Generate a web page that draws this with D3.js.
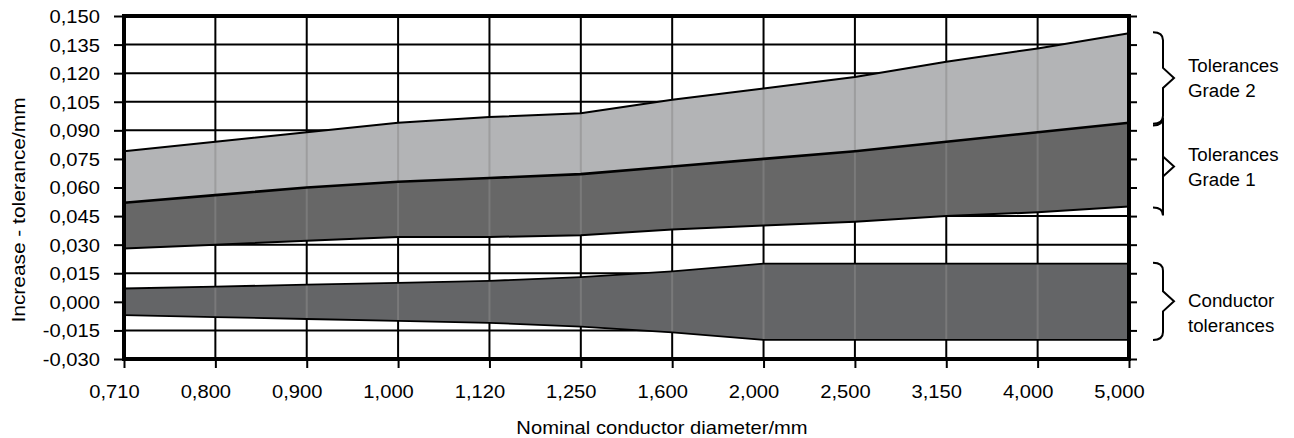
<!DOCTYPE html>
<html>
<head>
<meta charset="utf-8">
<script src="https://cdn.jsdelivr.net/npm/d3@7"></script>
<style>
  body { margin: 0; background: #fff; }
  svg { display: block; font-family: "Liberation Sans", Arial, sans-serif; }
</style>
</head>
<body>
<svg></svg>
<script>
 // diameters on the x axis (categories, evenly spaced)
 let categories = ['0,710', '0,800', '0,900', '1,000', '1,120', '1,250', '1,600', '2,000', '2,500', '3,150', '4,000', '5,000'];

 // band edges (mm)
 let grade2Upper = [0.079, 0.084, 0.089, 0.094, 0.097, 0.099, 0.106, 0.112, 0.118, 0.126, 0.133, 0.141];
 let grade1Upper = [0.052, 0.056, 0.060, 0.063, 0.065, 0.067, 0.071, 0.075, 0.079, 0.084, 0.089, 0.094];
 let grade1Lower = [0.028, 0.030, 0.032, 0.034, 0.034, 0.035, 0.038, 0.040, 0.042, 0.045, 0.047, 0.050];
 let conductorUpper = [0.007, 0.008, 0.009, 0.010, 0.011, 0.013, 0.016, 0.020, 0.020, 0.020, 0.020, 0.020];
 let conductorLower = [-0.007, -0.008, -0.009, -0.010, -0.011, -0.013, -0.016, -0.020, -0.020, -0.020, -0.020, -0.020];

 let yTicks = [0.150, 0.135, 0.120, 0.105, 0.090, 0.075, 0.060, 0.045, 0.030, 0.015, 0.000, -0.015, -0.030];
 let yTickLabels = ['0,150', '0,135', '0,120', '0,105', '0,090', '0,075', '0,060', '0,045', '0,030', '0,015', '0,000', '-0,015', '-0,030'];

 // braces on the right: label lines and the value range they cover
 let braceLabels = [['Tolerances', 'Grade 2'], ['Tolerances', 'Grade 1'], ['Conductor', 'tolerances']];
 let braceFrom = [0.0935, 0.0925, -0.020];
 let braceTo = [0.1415, 0.0495, 0.0205];

 let width = 1294;
 let height = 438;
 let padLeft = 124, padRight = 1129, padTop = 16, padBottom = 359;
 let stretch = 1.12; // glyphs in the picture are a bit wide

 let svg = d3.select('svg').attr('width', width).attr('height', height);

 let xScale = d3.scalePoint().domain(categories).range([padLeft, padRight]).padding(0);
 let yScale = d3.scaleLinear().domain([-0.030, 0.150]).range([padBottom, padTop]);

 let idx = categories.map((c, i) => i);
 let xi = i => xScale(categories[i]);

 // grid
 svg.append('g').selectAll('line').data(categories).enter().append('line')
    .attr('x1', d => xScale(d)).attr('x2', d => xScale(d))
    .attr('y1', padTop).attr('y2', padBottom)
    .attr('stroke', '#000').attr('stroke-width', 2);
 svg.append('g').selectAll('line').data(yTicks).enter().append('line')
    .attr('x1', padLeft).attr('x2', padRight)
    .attr('y1', d => yScale(d)).attr('y2', d => yScale(d))
    .attr('stroke', '#000').attr('stroke-width', 2);

 // bands
 let band = (lo, hi) => d3.area().x(i => xi(i)).y0(i => yScale(lo[i])).y1(i => yScale(hi[i]))(idx);
 let bands = [
   { d: band(grade1Upper, grade2Upper), fill: '#b3b4b6' },
   { d: band(grade1Lower, grade1Upper), fill: '#676767' },
   { d: band(conductorLower, conductorUpper), fill: '#646567' }
 ];

 let clip = svg.append('defs').append('clipPath').attr('id', 'bands');
 bands.forEach(b => clip.append('path').attr('d', b.d));

 svg.append('g').selectAll('path').data(bands).enter().append('path')
    .attr('d', b => b.d).attr('fill', b => b.fill);

 // faint vertical grid showing through the bands
 svg.append('g').attr('clip-path', 'url(#bands)')
    .selectAll('line').data(categories).enter().append('line')
    .attr('x1', d => xScale(d)).attr('x2', d => xScale(d))
    .attr('y1', padTop).attr('y2', padBottom)
    .attr('stroke', '#8a8a8a').attr('stroke-opacity', 0.55).attr('stroke-width', 2);

 // outlines
 let edge = d3.line().x(i => xi(i));
 [[grade2Upper, 2], [grade1Upper, 2.6], [grade1Lower, 2], [conductorUpper, 1.8], [conductorLower, 1.8]].forEach(([arr, w]) => {
   svg.append('path')
      .attr('d', edge.y(i => yScale(arr[i]))(idx))
      .attr('fill', 'none').attr('stroke', '#000').attr('stroke-width', w);
 });

 // axes
 let yAxis = d3.axisLeft(yScale).tickValues(yTicks).tickSize(10)
               .tickFormat((d, i) => yTickLabels[i]);
 let gy = svg.append('g').attr('transform', `translate(${padLeft},0)`).call(yAxis);
 gy.select('.domain').remove();
 gy.selectAll('line').attr('stroke-width', 2);
 gy.selectAll('text')
   .attr('x', -24 / stretch).attr('dy', '0.36em')
   .attr('transform', `scale(${stretch},1)`)
   .attr('font-size', 18).attr('fill', '#000');

 let yAxisRight = d3.axisRight(yScale).tickValues(yTicks).tickSize(8).tickFormat('');
 let gyr = svg.append('g').attr('transform', `translate(${padRight},0)`).call(yAxisRight);
 gyr.select('.domain').remove();
 gyr.selectAll('line').attr('stroke-width', 2);

 // labels sit a little left of their ticks in the original
 let xAxis = d3.axisBottom(xScale).tickSize(9);
 let gx = svg.append('g').attr('transform', `translate(0,${padBottom})`).call(xAxis);
 gx.select('.domain').remove();
 gx.selectAll('line').attr('stroke-width', 2);
 gx.selectAll('text')
   .attr('y', 39).attr('dy', 0).attr('x', -10 / stretch)
   .attr('transform', `scale(${stretch},1)`)
   .attr('font-size', 18).attr('fill', '#000');
 svg.selectAll('.tick text').attr('font-family', null);

 // frame
 svg.append('rect')
    .attr('x', padLeft).attr('y', padTop)
    .attr('width', padRight - padLeft).attr('height', padBottom - padTop)
    .attr('fill', 'none').attr('stroke', '#000').attr('stroke-width', 4);

 // axis titles
 svg.append('text')
    .attr('transform', `translate(662,434) scale(${stretch},1)`)
    .attr('text-anchor', 'middle').attr('font-size', 18)
    .text('Nominal conductor diameter/mm');

 svg.append('text')
    .attr('transform', `translate(25,210) rotate(-90) scale(1.16,1)`)
    .attr('text-anchor', 'middle').attr('font-size', 18)
    .text('Increase - tolerance/mm');

 // braces
 let labelShift = [0, 0, 12];
 braceLabels.forEach((lines, k) => {
   let y0 = yScale(braceTo[k]), y1 = yScale(braceFrom[k]);
   let ym = (y0 + y1) / 2;
   let x0 = 1153, xs = 1163, xt = 1174, r = 8, d = 10;
   let p = d3.path();
   p.moveTo(x0, y0);
   p.quadraticCurveTo(xs, y0, xs, y0 + r);
   p.lineTo(xs, ym - d);
   p.lineTo(xt, ym);
   p.lineTo(xs, ym + d);
   p.lineTo(xs, y1 - r);
   p.quadraticCurveTo(xs, y1, x0, y1);
   svg.append('path').attr('d', p.toString())
      .attr('fill', 'none').attr('stroke', '#000').attr('stroke-width', 2);

   lines.forEach((txt, j) => {
     svg.append('text')
        .attr('transform', `translate(1188,${ym - 6 + labelShift[k] + j * 25}) scale(1.04,1)`)
        .attr('font-size', 18)
        .text(txt);
   });
 });
</script>
</body>
</html>
